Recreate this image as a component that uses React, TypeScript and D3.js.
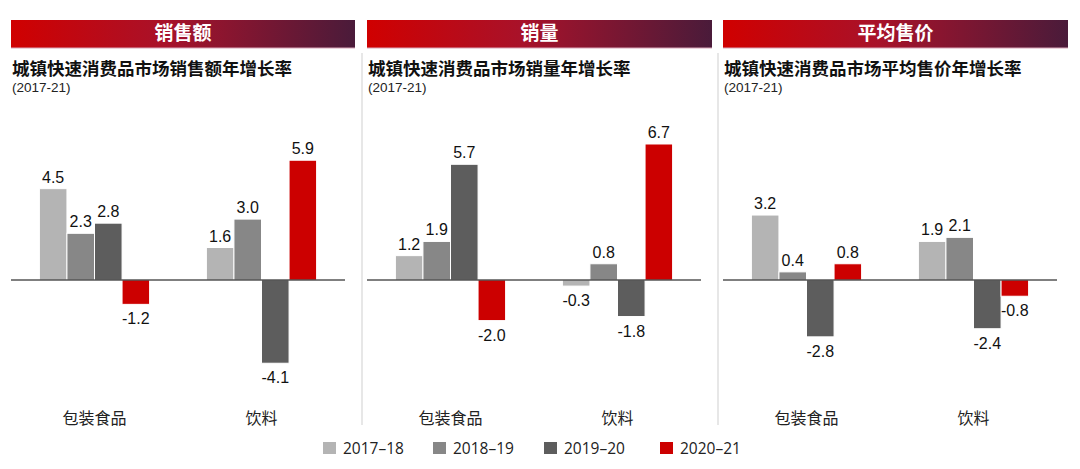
import React from 'react';
import * as d3 from 'd3';

// chart data
const categories = ['包装食品', '饮料'];
const periods = ['2017–18', '2018–19', '2019–20', '2020–21'];
const salesValue = [
  [4.5, 2.3, 2.8, -1.2],
  [1.6, 3.0, -4.1, 5.9],
];
const salesVolume = [
  [1.2, 1.9, 5.7, -2.0],
  [-0.3, 0.8, -1.8, 6.7],
];
const avgPrice = [
  [3.2, 0.4, -2.8, 0.8],
  [1.9, 2.1, -2.4, -0.8],
];
const headers = ['销售额', '销量', '平均售价'];
const titles = [
  '城镇快速消费品市场销售额年增长率',
  '城镇快速消费品市场销量年增长率',
  '城镇快速消费品市场平均售价年增长率',
];
const subtitle = '(2017-21)';

const colors = ['#b4b4b4', '#878787', '#5d5d5d', '#cc0000'];
const panelData = [salesValue, salesVolume, avgPrice];

const width = 1080;
const height = 469;
const panelStep = 356;
const plotLeft = 11;
const plotWidth = 334;
const zeroY = 280;
const pxPerUnit = 20.3;

const cjk = '"Noto Sans CJK SC", "Noto Sans", sans-serif';
const num = '"Liberation Sans", Arial, sans-serif';

const y = d3.scaleLinear()
  .domain([-5, 7])
  .range([zeroY + 5 * pxPerUnit, zeroY - 7 * pxPerUnit]);

const Panel = ({ index }: { index: number }) => {
  const x0 = plotLeft + index * panelStep;
  const x = d3.scaleBand<string>()
    .domain(categories)
    .range([x0, x0 + plotWidth])
    .paddingInner(0.34)
    .paddingOuter(0.17);
  const x1 = d3.scaleBand<string>()
    .domain(periods)
    .range([0, x.bandwidth()]);
  const data = panelData[index];
  const headerX = index === 0 ? 11 : index === 1 ? 367 : 723;
  const headerW = index === 0 ? 344 : 345;

  return (
    <g>
      <rect x={headerX} y={20} width={headerW} height={28} fill="url(#hdrGrad)" />
      <line x1={headerX} x2={headerX + headerW} y1={48} y2={48} stroke="#d8a6b8" strokeWidth={1} />
      <text
        x={headerX + headerW / 2}
        y={40}
        textAnchor="middle"
        fill="#fff"
        fontFamily={cjk}
        fontWeight="bold"
        fontSize={19}
      >
        {headers[index]}
      </text>
      <text x={headerX + 1} y={75} fontFamily={cjk} fontWeight="bold" fontSize={17.5} fill="#111">
        {titles[index]}
      </text>
      <text x={headerX + 1} y={92} fontFamily={num} fontSize={13.5} fill="#222">
        {subtitle}
      </text>

      {categories.map((cat, ci) => (
        <g key={cat} transform={`translate(${x(cat)},0)`}>
          {periods.map((p, pi) => {
            const v = data[ci][pi];
            const top = y(Math.max(0, v));
            const h = Math.abs(y(v) - y(0));
            const cx = (x1(p) as number) + x1.bandwidth() / 2;
            return (
              <g key={p}>
                <rect
                  x={x1(p)}
                  y={top}
                  width={x1.bandwidth()}
                  height={h}
                  fill={colors[pi]}
                  stroke="#fff"
                  strokeWidth={1}
                />
                <text
                  x={cx}
                  y={v >= 0 ? y(v) - 6 : y(v) + 20}
                  textAnchor="middle"
                  fontFamily={num}
                  fontSize={16}
                  fill="#111"
                >
                  {v.toFixed(1)}
                </text>
              </g>
            );
          })}
          <text
            x={x.bandwidth() / 2}
            y={424}
            textAnchor="middle"
            fontFamily={cjk}
            fontSize={16}
            fill="#222"
          >
            {cat}
          </text>
        </g>
      ))}

      <line x1={x0} x2={x0 + plotWidth} y1={y(0)} y2={y(0)} stroke="#000" strokeWidth={1} />
    </g>
  );
};

const legendX = [323, 433, 544, 660];

const App = () => {
  return (
    <div style={{ position: 'absolute', left: 0, top: 0 }}>
      <svg width={width} height={height} style={{ display: 'block', background: '#fff' }}>
        <defs>
          <linearGradient id="hdrGrad" x1="0" x2="1" y1="0" y2="0">
            <stop offset="0%" stopColor="#d00000" />
            <stop offset="45%" stopColor="#a8122a" />
            <stop offset="100%" stopColor="#4a1b3a" />
          </linearGradient>
        </defs>
        <rect width={width} height={height} fill="#fff" />
        <line x1={362} x2={362} y1={53} y2={425} stroke="#cfcfcf" />
        <line x1={718} x2={718} y1={53} y2={425} stroke="#cfcfcf" />
        {headers.map((h, i) => (
          <Panel key={h} index={i} />
        ))}
        {periods.map((p, i) => (
          <g key={p}>
            <rect x={legendX[i]} y={442} width={13} height={12} fill={colors[i]} />
            <text
              x={legendX[i] + 20}
              y={454}
              fontFamily='"Open Sans", "Noto Sans", sans-serif'
              fontSize={15.5}
              fill="#222"
            >
              {p}
            </text>
          </g>
        ))}
      </svg>
    </div>
  );
};

export default App;
